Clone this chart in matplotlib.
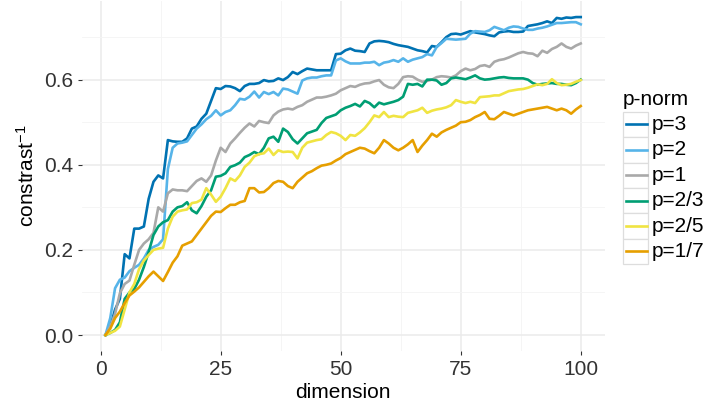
import matplotlib
matplotlib.use("Agg")
import matplotlib.pyplot as plt
from matplotlib.lines import Line2D
from matplotlib.patches import Rectangle

plt.rcParams['font.family'] = ['Liberation Sans', 'DejaVu Sans']
plt.rcParams['mathtext.fontset'] = 'custom'
plt.rcParams['mathtext.rm'] = 'Liberation Sans'
plt.rcParams['mathtext.default'] = 'regular'

dimension = list(range(1, 101))

norm_labels = ['p=3', 'p=2', 'p=1', 'p=2/3', 'p=2/5', 'p=1/7']
norm_colors = ['#0072B2', '#56B4E9', '#A9A9A9', '#009E73', '#F0E442', '#E69F00']

p3 = [0.0, 0.02, 0.06, 0.085, 0.19, 0.18, 0.25, 0.25, 0.255, 0.32,
      0.36, 0.375, 0.368, 0.458, 0.455, 0.454, 0.454, 0.462, 0.485, 0.49,
      0.508, 0.52, 0.55, 0.58, 0.578, 0.585, 0.584, 0.58, 0.573, 0.585,
      0.59, 0.59, 0.592, 0.599, 0.596, 0.597, 0.603, 0.599, 0.606, 0.618,
      0.613, 0.62, 0.626, 0.624, 0.622, 0.622, 0.622, 0.622, 0.66, 0.661,
      0.669, 0.673, 0.668, 0.667, 0.665, 0.685, 0.69, 0.691, 0.69, 0.688,
      0.684, 0.681, 0.679, 0.677, 0.673, 0.669, 0.667, 0.664, 0.679, 0.677,
      0.688, 0.70, 0.707, 0.708, 0.706, 0.71, 0.714, 0.711, 0.709, 0.707,
      0.704, 0.702, 0.711, 0.713, 0.714, 0.712, 0.712, 0.713, 0.726, 0.728,
      0.73, 0.733, 0.737, 0.733, 0.745, 0.743, 0.746, 0.745, 0.747, 0.747]

p2 = [0.0, 0.04, 0.11, 0.13, 0.135, 0.15, 0.158, 0.165, 0.18, 0.2,
      0.207, 0.212, 0.225, 0.39, 0.44, 0.45, 0.452, 0.455, 0.47, 0.485,
      0.495, 0.507, 0.515, 0.528, 0.516, 0.524, 0.528, 0.54, 0.555, 0.553,
      0.56, 0.572, 0.558, 0.571, 0.566, 0.571, 0.563, 0.579, 0.577, 0.572,
      0.567, 0.598, 0.603, 0.605, 0.605, 0.608, 0.61, 0.61, 0.645, 0.65,
      0.643, 0.638, 0.638, 0.638, 0.64, 0.64, 0.642, 0.634, 0.64, 0.642,
      0.646, 0.642, 0.65, 0.642, 0.647, 0.65, 0.653, 0.66, 0.657, 0.677,
      0.686, 0.696, 0.695, 0.694, 0.695, 0.696, 0.708, 0.714, 0.713, 0.712,
      0.716, 0.724, 0.72, 0.716, 0.722, 0.725, 0.724, 0.72, 0.717, 0.717,
      0.72, 0.722, 0.725, 0.729, 0.733, 0.733, 0.734, 0.735, 0.735, 0.73]

p1 = [0.0, 0.02, 0.05, 0.098, 0.12, 0.128, 0.165, 0.2, 0.215, 0.225,
      0.24, 0.3, 0.29, 0.333, 0.342, 0.34, 0.34, 0.338, 0.35, 0.362,
      0.368, 0.36, 0.375, 0.41, 0.44, 0.43, 0.45, 0.462, 0.475, 0.487,
      0.497, 0.49, 0.503, 0.5, 0.498, 0.516, 0.525, 0.53, 0.532, 0.53,
      0.536, 0.54, 0.548, 0.553, 0.558, 0.558, 0.56, 0.563, 0.567, 0.575,
      0.58, 0.585, 0.583, 0.588, 0.591, 0.592, 0.596, 0.599, 0.588, 0.582,
      0.58, 0.59, 0.606, 0.608, 0.607, 0.6, 0.595, 0.597, 0.6, 0.606,
      0.608, 0.607, 0.605, 0.61, 0.62, 0.626, 0.622, 0.625, 0.632, 0.634,
      0.63, 0.642, 0.646, 0.648, 0.652, 0.657, 0.662, 0.665, 0.662, 0.661,
      0.655, 0.668, 0.663, 0.672, 0.677, 0.685, 0.677, 0.673, 0.68, 0.685]

p2_3 = [0.0, 0.005, 0.012, 0.03, 0.085, 0.1, 0.108, 0.13, 0.16, 0.195,
        0.235, 0.255, 0.265, 0.27, 0.29, 0.3, 0.303, 0.312, 0.293, 0.286,
        0.303, 0.325, 0.34, 0.372, 0.374, 0.38, 0.395, 0.399, 0.405, 0.418,
        0.423, 0.43, 0.425, 0.44, 0.462, 0.466, 0.454, 0.485, 0.477, 0.46,
        0.45, 0.462, 0.474, 0.478, 0.482, 0.498, 0.51, 0.514, 0.518, 0.528,
        0.534, 0.538, 0.543, 0.537, 0.55, 0.545, 0.535, 0.546, 0.542, 0.545,
        0.548, 0.552, 0.56, 0.59, 0.588, 0.59, 0.584, 0.6, 0.6, 0.598,
        0.588, 0.592, 0.603, 0.605, 0.603, 0.601, 0.605, 0.61, 0.603, 0.6,
        0.601, 0.603, 0.605, 0.606, 0.604, 0.603, 0.603, 0.603, 0.6, 0.592,
        0.588, 0.59, 0.591, 0.592, 0.59, 0.59, 0.588, 0.587, 0.592, 0.6]

p2_5 = [0.0, 0.005, 0.01, 0.02, 0.06, 0.1, 0.12, 0.155, 0.175, 0.188,
        0.2, 0.203, 0.205, 0.25, 0.278, 0.29, 0.293, 0.295, 0.31, 0.312,
        0.318, 0.345, 0.33, 0.313, 0.325, 0.345, 0.368, 0.362, 0.375, 0.395,
        0.405, 0.42, 0.425, 0.427, 0.438, 0.423, 0.434, 0.43, 0.431, 0.43,
        0.415, 0.44, 0.452, 0.455, 0.458, 0.46, 0.47, 0.477, 0.474, 0.468,
        0.458, 0.47, 0.468, 0.476, 0.486, 0.5, 0.516, 0.512, 0.524, 0.512,
        0.515, 0.513, 0.512, 0.522, 0.525, 0.528, 0.534, 0.522, 0.527, 0.53,
        0.532, 0.535, 0.54, 0.552, 0.548, 0.545, 0.548, 0.545, 0.559, 0.56,
        0.561, 0.563, 0.563, 0.568, 0.573, 0.575, 0.577, 0.578, 0.581, 0.585,
        0.589, 0.587, 0.59, 0.601, 0.592, 0.587, 0.588, 0.59, 0.595, 0.599]

p1_7 = [0.0, 0.015, 0.04, 0.055, 0.075, 0.093, 0.102, 0.112, 0.125, 0.138,
        0.149, 0.138, 0.127, 0.148, 0.17, 0.185, 0.21, 0.215, 0.22, 0.235,
        0.25, 0.265, 0.28, 0.29, 0.289, 0.298, 0.306, 0.306, 0.312, 0.315,
        0.345, 0.345, 0.335, 0.336, 0.345, 0.357, 0.362, 0.36, 0.35, 0.345,
        0.36, 0.37, 0.38, 0.385, 0.392, 0.398, 0.4, 0.403, 0.41, 0.416,
        0.425, 0.43, 0.435, 0.44, 0.438, 0.432, 0.427, 0.44, 0.458, 0.45,
        0.44, 0.434, 0.44, 0.448, 0.458, 0.43, 0.445, 0.458, 0.473, 0.466,
        0.476, 0.482, 0.487, 0.492, 0.5, 0.501, 0.505, 0.512, 0.517, 0.524,
        0.508, 0.507, 0.515, 0.524, 0.52, 0.516, 0.52, 0.524, 0.528, 0.53,
        0.532, 0.534, 0.536, 0.532, 0.528, 0.532, 0.528, 0.52, 0.53, 0.538]

series = [p3, p2, p1, p2_3, p2_5, p1_7]

FS = 15
W, H = 708, 407
fig = plt.figure(figsize=(W / 100, H / 100), dpi=100)
# panel placed in pixel units
left, right, top, bottom = 81.7, 604.5, 0.9, 351
ax = fig.add_axes([left / W, 1 - bottom / H, (right - left) / W, (bottom - top) / H])

for vals, col in zip(series, norm_colors):
    ax.plot(dimension, vals, color=col, lw=1.9, solid_joinstyle='round')

ax.set_xlim(-3.95, 104.95)
ax.set_ylim(-0.0375, 0.785)
ax.set_xticks([0, 25, 50, 75, 100])
ax.set_xticks([12.5, 37.5, 62.5, 87.5], minor=True)
ax.set_yticks([0.0, 0.2, 0.4, 0.6])
ax.set_yticklabels(['0.0', '0.2', '0.4', '0.6'])
ax.set_yticks([0.1, 0.3, 0.5, 0.7], minor=True)
ax.grid(which='major', color='#EBEBEB', lw=1.1)
ax.grid(which='minor', color='#F4F4F4', lw=0.6)
ax.set_axisbelow(True)
for s in ax.spines.values():
    s.set_visible(False)
ax.tick_params(which='major', length=2.75, width=0.8, color='#333333',
               labelsize=FS, labelcolor='#333333', pad=3.6)
ax.tick_params(which='minor', length=0)

ax.set_xlabel('dimension', fontsize=FS, labelpad=3)
ax.set_ylabel('constrast$^{-1}$', fontsize=FS, labelpad=4)

# legend drawn by hand: key boxes with a short line segment
fig.text(623 / W, 1 - 105 / H, 'p-norm', fontsize=FS, ha='left', va='baseline')
key_top = 111.7
key_h = 25.4
for i, (lab, col) in enumerate(zip(norm_labels, norm_colors)):
    y0 = key_top + i * key_h
    fig.add_artist(Rectangle((623.3 / W, 1 - (y0 + key_h) / H), 25 / W, key_h / H,
                             transform=fig.transFigure, facecolor='white',
                             edgecolor='#DDDDDD', lw=0.9))
    yc = 1 - (y0 + key_h / 2) / H
    fig.add_artist(Line2D([625.5 / W, 646.5 / W], [yc, yc], transform=fig.transFigure,
                          color=col, lw=1.9))
    fig.text(651.5 / W, yc, lab, fontsize=FS, ha='left', va='center')

fig.savefig('out.png', dpi=100)
